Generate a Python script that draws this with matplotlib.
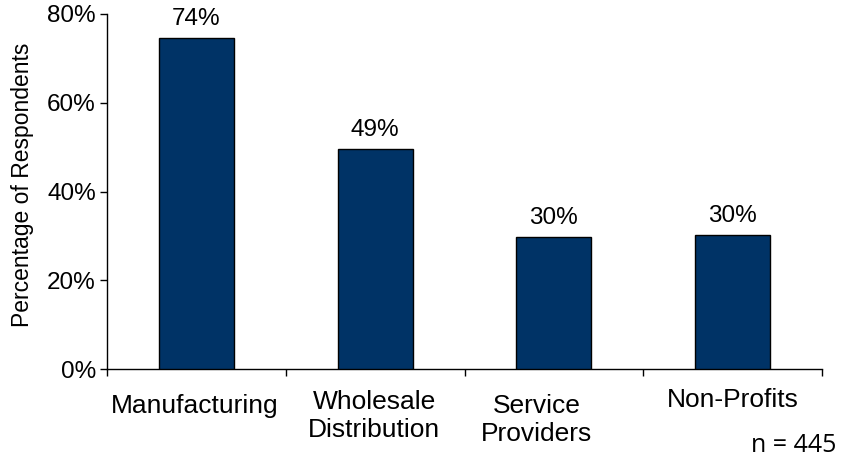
import matplotlib
matplotlib.use("Agg")
import matplotlib.pyplot as plt
from matplotlib.ticker import FuncFormatter

plt.rcParams['font.family'] = ['Liberation Sans', 'DejaVu Sans']

categories = ["Manufacturing", "Wholesale\nDistribution", "Service\nProviders", "Non-Profits"]
values = [74.5, 49.5, 29.7, 30.2]
value_labels = ["74%", "49%", "30%", "30%"]
y_ticks = [0, 20, 40, 60, 80]

fig = plt.figure(figsize=(8.44, 4.58), dpi=100)
ax = fig.add_axes([107/844, 1-369/458, (822-107)/844, (369-14)/458])

x = list(range(len(categories)))
bars = ax.bar(x, values, width=0.42, color='#003366', edgecolor='black', linewidth=1, zorder=3)

ax.set_xlim(-0.5, 3.5)
ax.set_ylim(0, 80)
ax.set_yticks(y_ticks)
ax.yaxis.set_major_formatter(FuncFormatter(lambda v, p: f"{int(v)}%"))
ax.tick_params(axis='y', labelsize=17.5, length=5, width=1, pad=3)
ax.set_xticks([-0.5, 0.5, 1.5, 2.5, 3.5])
ax.set_xticklabels([])
ax.tick_params(axis='x', length=5, width=1, direction='out')
for s in ['top', 'right']:
    ax.spines[s].set_visible(False)
ax.spines['left'].set_linewidth(1)
ax.spines['bottom'].set_linewidth(1)

ax.set_ylabel("Percentage of Respondents", fontsize=16.5)
ax.yaxis.set_label_coords((34-107)/715, (369-185)/355)

for b, lab in zip(bars, value_labels):
    ax.annotate(lab, xy=(b.get_x() + b.get_width()/2, b.get_height()),
                xytext=(0, 6), textcoords='offset points', ha='center', va='bottom', fontsize=17.5)

# category label offsets (pixels): dx, dy below axis
offsets = [(-2, 37), (-1, 47), (-17, 51), (0, 31)]
for i, (cat, (dx, dy)) in enumerate(zip(categories, offsets)):
    ax.annotate(cat, xy=(i, 0), xycoords=('data', 'axes fraction'),
                xytext=(dx*0.72, -dy*0.72), textcoords='offset points',
                ha='center', va='center', fontsize=19, linespacing=1.2)

fig.text(794/844, 1-446/458, "n = 445", ha='center', va='center', fontsize=18,
         family=['Open Sans', 'DejaVu Sans'])

fig.savefig("out.png", dpi=100)
